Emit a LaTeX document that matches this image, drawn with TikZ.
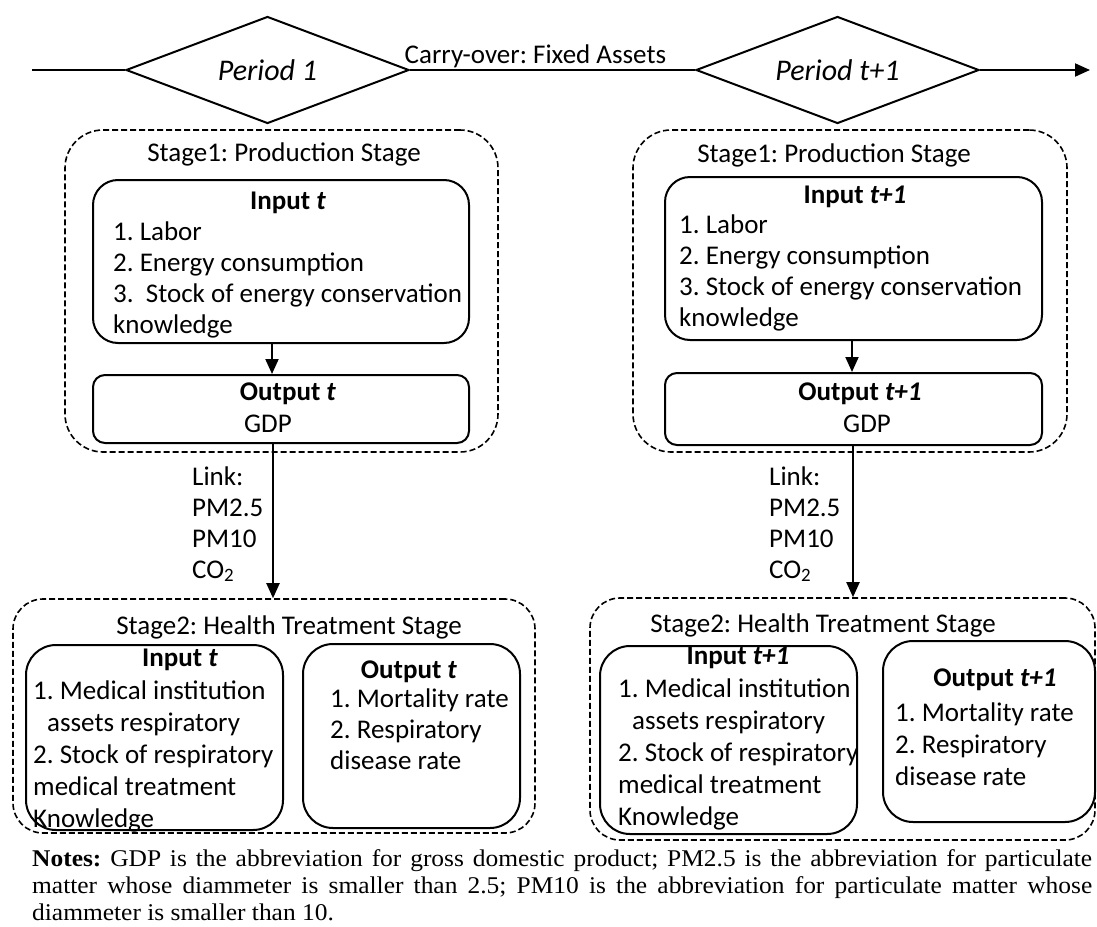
\documentclass[tikz,border=0pt]{standalone}
\usepackage{fontspec}
\setmainfont{Carlito}
\newfontfamily\notefont[FakeStretch=1.06]{Liberation Serif}
\usetikzlibrary{shapes.geometric,arrows.meta,positioning}
\frenchspacing

\begin{document}
\begin{tikzpicture}[x=1pt,y=-1pt,>={Triangle[length=15pt,width=13pt]},
    font=\fontsize{27}{31}\selectfont,
    period/.style={diamond,draw,line width=2pt,inner sep=0pt,aspect=2.65,minimum width=283pt,minimum height=107pt,font=\fontsize{30}{34}\selectfont\itshape},
    stagebox/.style={draw,dash pattern=on 6pt off 3pt,line width=1.6pt,rounded corners=38pt,inner sep=0pt},
    subbox/.style={draw,line width=2pt,rounded corners=25pt,inner sep=0pt},
    txt/.style={inner sep=0pt,anchor=base west,align=left},
    head/.style={inner sep=0pt,anchor=base,font=\fontsize{27}{31}\selectfont\bfseries},
    link/.style={line width=2pt}]
    \useasboundingbox (0,0) rectangle (1097,926);

    % periods
    \coordinate (line start) at (32,70);
    \coordinate (line end) at (1090,70);
    \node[period] (p1) at (267.5,70) {Period 1};
    \node[period] (p2) at (837.5,70) {Period t+1};
    \draw[link] (line start) -- (p1.west);
    \draw[link] (p1.east) -- node[pos=0.44,above,inner sep=1pt] (carry) {Carry-over: Fixed Assets} (p2.west);
    \draw[link,->] (p2.east) -- (line end);

    % stage 1, period t (multi-line texts sit on their last line)
    \node[stagebox,minimum width=433pt,minimum height=322pt] (s1a) at (281.5,291) {};
    \node[inner sep=0pt,anchor=base] (s1a title) at (284,161) {Stage1: Production Stage};
    \node[subbox,minimum width=376pt,minimum height=163pt] (in1) at (281,261.5) {};
    \node[head] (in1 head) at (288,209) {Input \textit{t}};
    \node[txt] (in1 list) at (113,333) {1. Labor\\2. Energy consumption\\3.\ \ Stock of energy conservation\\knowledge};
    \node[subbox,rounded corners=12pt,minimum width=376pt,minimum height=68pt] (out1) at (281,409) {};
    \node[head] (out1 head) at (288,400) {Output \textit{t}};
    \node[inner sep=0pt,anchor=base] (out1 gdp) at (268,432) {GDP};

    % stage 1, period t+1
    \node[stagebox,minimum width=434pt,minimum height=322pt] (s1b) at (850,291) {};
    \node[inner sep=0pt,anchor=base] (s1b title) at (834,162) {Stage1: Production Stage};
    \node[subbox,minimum width=377pt,minimum height=163pt] (in2) at (853.5,258.5) {};
    \node[head] (in2 head) at (855,203) {Input \textit{t+1}};
    \node[txt] (in2 list) at (679,326) {1. Labor\\2. Energy consumption\\3. Stock of energy conservation\\knowledge};
    \node[subbox,rounded corners=12pt,minimum width=377pt,minimum height=72pt] (out2) at (853.5,409) {};
    \node[head] (out2 head) at (860,400) {Output \textit{t+1}};
    \node[inner sep=0pt,anchor=base] (out2 gdp) at (867,432) {GDP};

    \draw[link,->] ([xshift=-9pt]in1.south) -- ([xshift=-9pt]out1.north);
    \draw[link,->] ([xshift=-1.5pt]in2.south) -- ([xshift=-1.5pt]out2.north);

    % stage 2, period t
    \node[stagebox,rounded corners=30pt,minimum width=522pt,minimum height=234pt] (s2a) at (274,716) {};
    \node[inner sep=0pt,anchor=base] (s2a title) at (289,634) {Stage2: Health Treatment Stage};
    \node[subbox,rounded corners=30pt,minimum width=257pt,minimum height=185pt] (hin1) at (154.5,737.5) {};
    \node[head] (hin1 head) at (180,666) {Input \textit{t}};
    \node[txt,font=\fontsize{27}{32}\selectfont] (hin1 list) at (33,827) {1. Medical institution\\\hspace*{14pt}assets respiratory\\2. Stock of respiratory\\medical treatment\\Knowledge};
    \node[subbox,rounded corners=30pt,minimum width=217pt,minimum height=184pt] (hout1) at (411.5,736) {};
    \node[head] (hout1 head) at (409,678) {Output \textit{t}};
    \node[txt] (hout1 list) at (330,769) {1. Mortality rate\\2. Respiratory\\disease rate};

    % stage 2, period t+1
    \node[stagebox,rounded corners=30pt,minimum width=505pt,minimum height=242pt] (s2b) at (842.5,719) {};
    \node[inner sep=0pt,anchor=base] (s2b title) at (823,632) {Stage2: Health Treatment Stage};
    \node[subbox,rounded corners=30pt,minimum width=257pt,minimum height=188pt] (hin2) at (728.5,740) {};
    \node[head] (hin2 head) at (738,664) {Input \textit{t+1}};
    \node[txt,font=\fontsize{27}{32}\selectfont] (hin2 list) at (618,825) {1. Medical institution\\\hspace*{14pt}assets respiratory\\2. Stock of respiratory\\medical treatment\\Knowledge};
    \node[subbox,rounded corners=30pt,minimum width=212pt,minimum height=181pt] (hout2) at (989,731.5) {};
    \node[head] (hout2 head) at (995,686) {Output \textit{t+1}};
    \node[txt,font=\fontsize{27}{32}\selectfont] (hout2 list) at (895,785) {1. Mortality rate\\2. Respiratory\\disease rate};

    % links
    \draw[link,->] ([xshift=-8pt]out1.south) -- ([xshift=-8pt]out1.south |- s2a.north);
    \draw[link,->] ([xshift=-0.5pt]out2.south) -- ([xshift=-0.5pt]out2.south |- s2b.north);
    \node[txt] (link1) at (192,578) {Link:\\PM2.5\\PM10\\CO\textsubscript{2}};
    \node[txt] (link2) at (769,578) {Link:\\PM2.5\\PM10\\CO\textsubscript{2}};

    % notes
    \node[inner sep=0pt,anchor=base west,text width=1060pt,align=justify,font=\notefont\fontsize{24}{27}\selectfont] (notes) at (32,866) {\textbf{Notes:} GDP is the abbreviation for gross domestic product; PM2.5 is the abbreviation for particulate\linebreak matter whose diammeter is smaller than 2.5; PM10 is the abbreviation for particulate matter whose\linebreak diammeter is smaller than 10.};
\end{tikzpicture}
\end{document}
